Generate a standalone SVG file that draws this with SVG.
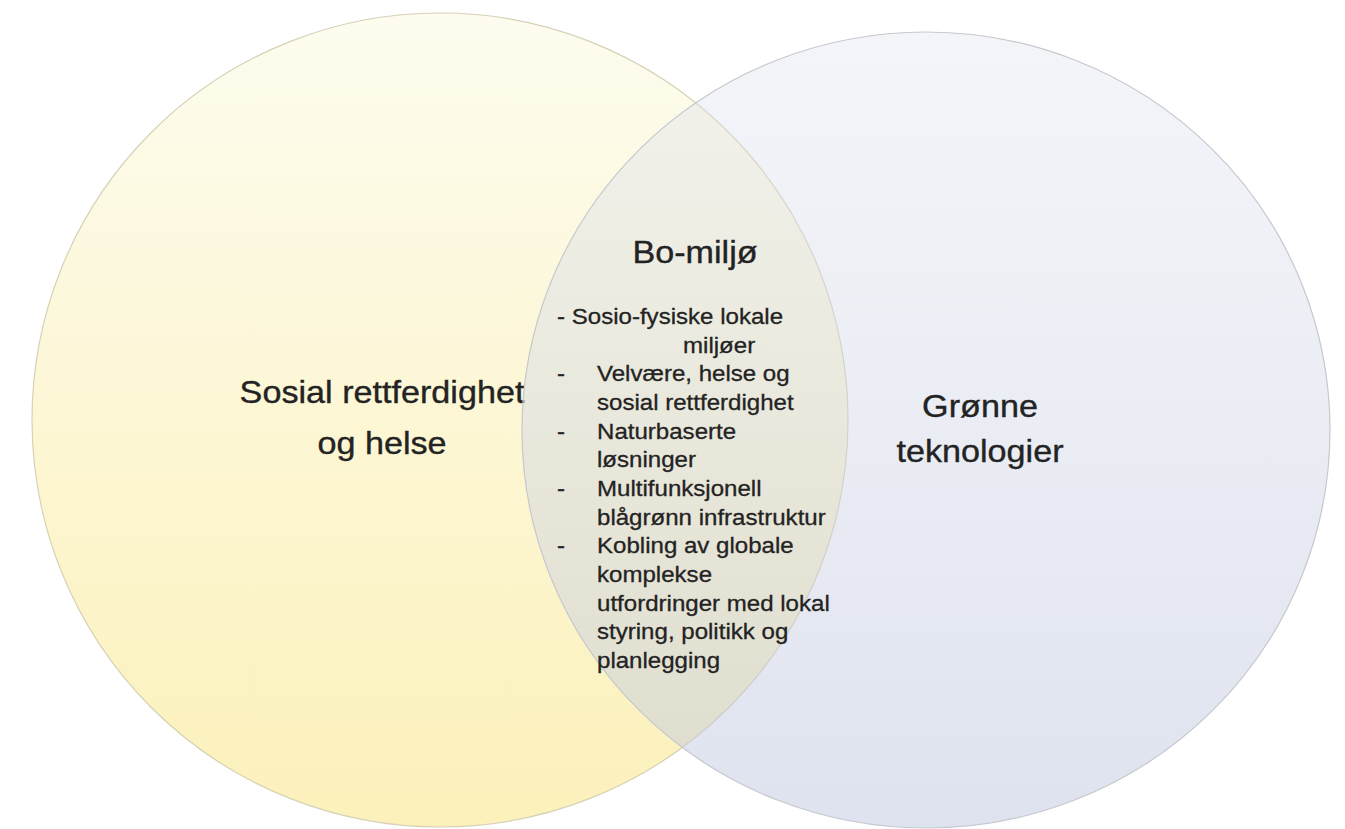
<svg xmlns="http://www.w3.org/2000/svg" width="1345" height="829" viewBox="0 0 1345 829">
<defs>
<linearGradient id="gLeft" x1="0" y1="0" x2="0" y2="1">
<stop offset="0" stop-color="#fdfcef"/>
<stop offset="1" stop-color="#fcf1ba"/>
</linearGradient>
<linearGradient id="gRight" x1="0" y1="0" x2="0" y2="1">
<stop offset="0" stop-color="rgb(223,226,238)" stop-opacity="0.35"/>
<stop offset="1" stop-color="rgb(190,198,222)" stop-opacity="0.5"/>
</linearGradient>
<style>
.big{font-family:"Liberation Sans",Arial,sans-serif;font-size:30.5px;fill:#232323;stroke:#232323;stroke-width:0.35px;text-anchor:middle}
.sm{font-family:"Liberation Sans",Arial,sans-serif;font-size:21.5px;fill:#232323;stroke:#232323;stroke-width:0.3px}
</style>
</defs>
<rect width="1345" height="829" fill="#ffffff"/>
<g id="node-left">
<ellipse cx="440" cy="420" rx="408" ry="407" fill="url(#gLeft)" stroke="#d6d2b6" stroke-width="1.2"/>
<text class="big" transform="translate(382,403) scale(1.12,1)">Sosial rettferdighet</text>
<text class="big" transform="translate(382,454) scale(1.12,1)">og helse</text>
</g>
<g id="node-right">
<ellipse cx="926" cy="430" rx="404" ry="398" fill="url(#gRight)" stroke="#c6c8ce" stroke-width="1.2"/>
<text class="big" transform="translate(980,417) scale(1.12,1)">Grønne</text>
<text class="big" transform="translate(980,462) scale(1.12,1)">teknologier</text>
</g>
<g id="node-intersection">
<text class="big" transform="translate(695,263) scale(1.12,1)">Bo-miljø</text>
<g class="sm">
<text transform="translate(557,324) scale(1.12,1)">- Sosio-fysiske lokale</text>
<text transform="translate(683,352.7) scale(1.12,1)">miljøer</text>
<text transform="translate(557,381.3) scale(1.12,1)">-</text>
<text transform="translate(597,381.3) scale(1.12,1)">Velvære, helse og</text>
<text transform="translate(597,410) scale(1.12,1)">sosial rettferdighet</text>
<text transform="translate(557,438.7) scale(1.12,1)">-</text>
<text transform="translate(597,438.7) scale(1.12,1)">Naturbaserte</text>
<text transform="translate(597,467.3) scale(1.12,1)">løsninger</text>
<text transform="translate(557,496) scale(1.12,1)">-</text>
<text transform="translate(597,496) scale(1.12,1)">Multifunksjonell</text>
<text transform="translate(597,524.7) scale(1.12,1)">blågrønn infrastruktur</text>
<text transform="translate(557,553.3) scale(1.12,1)">-</text>
<text transform="translate(597,553.3) scale(1.12,1)">Kobling av globale</text>
<text transform="translate(597,582) scale(1.12,1)">komplekse</text>
<text transform="translate(597,610.7) scale(1.12,1)">utfordringer med lokal</text>
<text transform="translate(597,639.3) scale(1.12,1)">styring, politikk og</text>
<text transform="translate(597,668) scale(1.12,1)">planlegging</text>
</g>
</g>
<g id="connectors"/>
</svg>
